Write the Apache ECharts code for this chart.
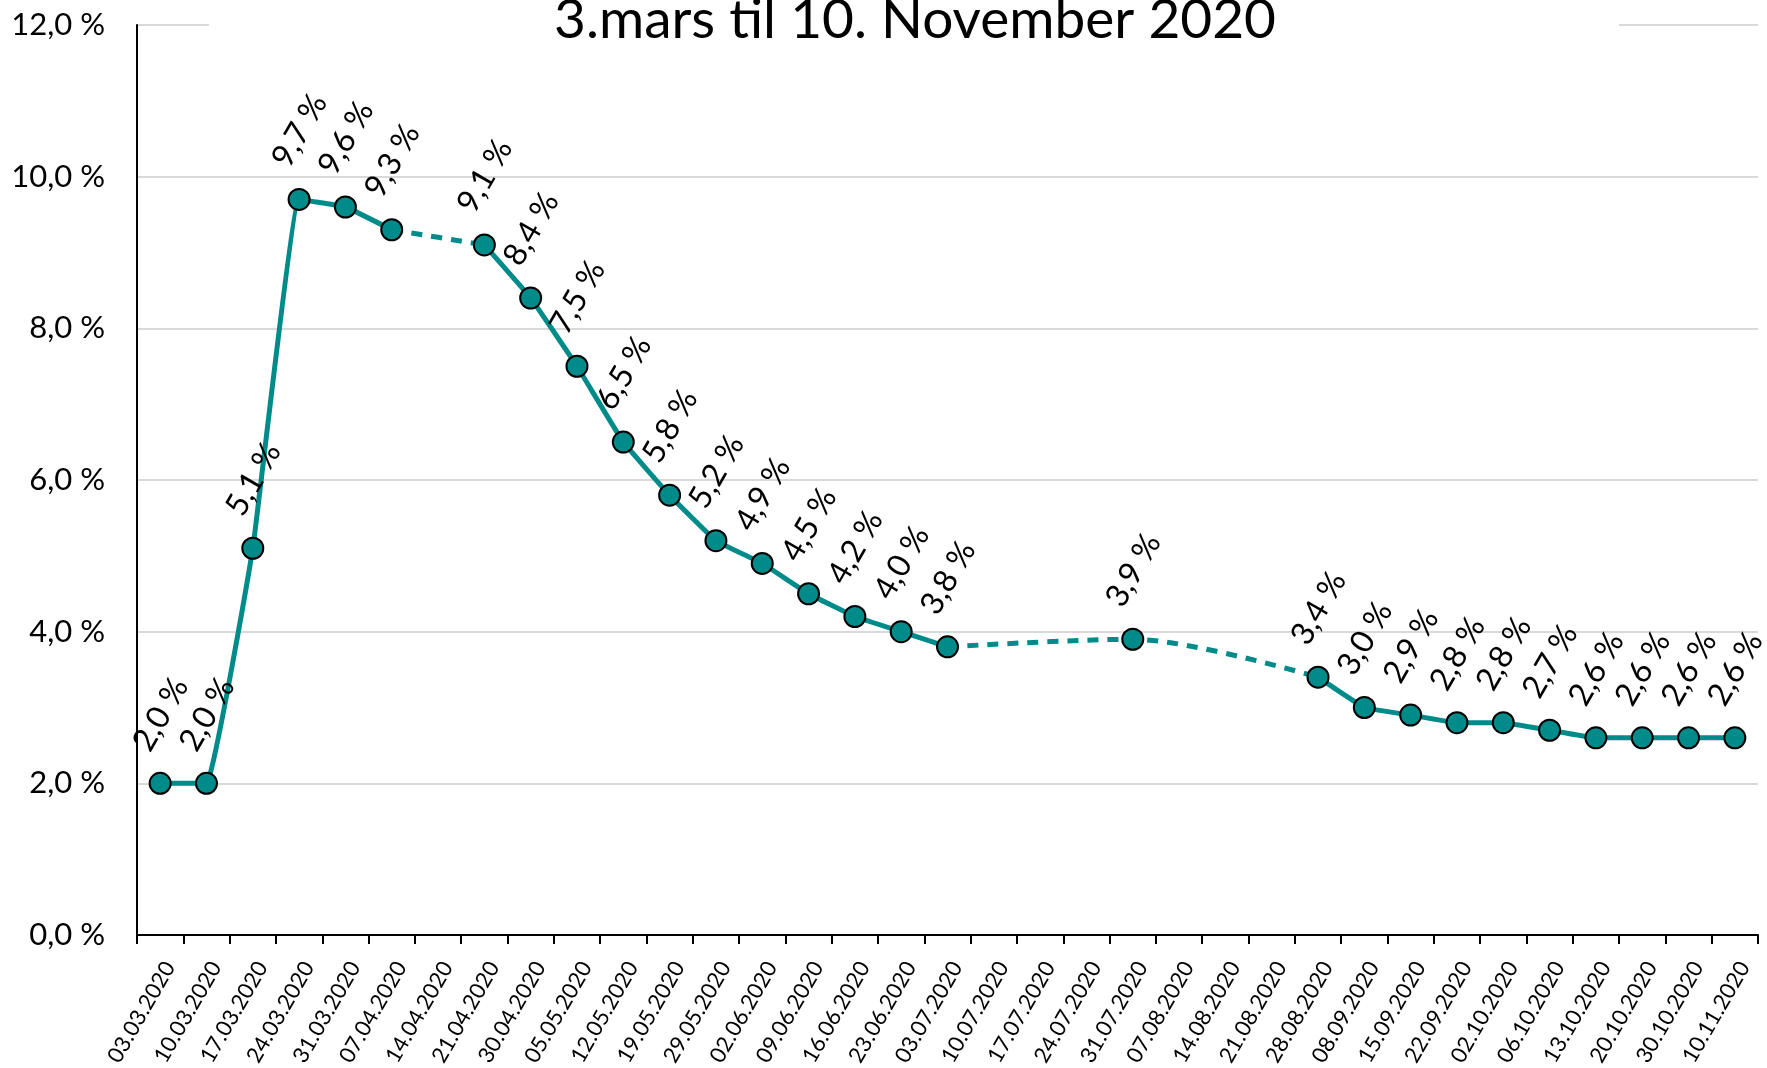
<!DOCTYPE html>
<html>
<head>
<meta charset="utf-8">
<script src="https://cdn.jsdelivr.net/npm/echarts@6/dist/echarts.min.js"></script>
<style>
  html, body { margin: 0; padding: 0; background: #fff; }
  #chart { width: 1767px; height: 1068px; }
</style>
</head>
<body>
<div id="chart"></div>
<script>
// datoer (x-aksen)
const dates = [
  '03.03.2020', '10.03.2020', '17.03.2020', '24.03.2020', '31.03.2020', '07.04.2020',
  '14.04.2020', '21.04.2020', '30.04.2020', '05.05.2020', '12.05.2020', '19.05.2020',
  '29.05.2020', '02.06.2020', '09.06.2020', '16.06.2020', '23.06.2020', '03.07.2020',
  '10.07.2020', '17.07.2020', '24.07.2020', '31.07.2020', '07.08.2020', '14.08.2020',
  '21.08.2020', '28.08.2020', '08.09.2020', '15.09.2020', '22.09.2020', '02.10.2020',
  '06.10.2020', '13.10.2020', '20.10.2020', '30.10.2020', '10.11.2020'
];

// prosent, null = ingen måling
const rate = [
  2.0, 2.0, 5.1, 9.7, 9.6, 9.3,
  null, 9.1, 8.4, 7.5, 6.5, 5.8,
  5.2, 4.9, 4.5, 4.2, 4.0, 3.8,
  null, null, null, 3.9, null, null,
  null, 3.4, 3.0, 2.9, 2.8, 2.8,
  2.7, 2.6, 2.6, 2.6, 2.6
];

const yTicks = [0, 2, 4, 6, 8, 10, 12];

const teal = '#008B8B';
const fmt = v => v.toFixed(1).replace('.', ',') + ' %';

// stiplede linjer over hullene i serien
function bridges(values) {
  const out = [];
  let i = 0;
  while (i < values.length - 1) {
    if (values[i] != null && values[i + 1] == null) {
      const arr = values.map(() => null);
      arr[i] = values[i];
      let j = i + 1;
      while (j < values.length) {
        if (values[j] != null) {
          arr[j] = values[j];
          if (j + 1 < values.length && values[j + 1] == null) { j++; continue; }
          break;
        }
        j++;
      }
      out.push(arr);
      i = j;
    } else {
      i++;
    }
  }
  return out;
}

const dashedSeries = bridges(rate).map(arr => ({
  type: 'line',
  data: arr,
  connectNulls: true,
  smooth: 0.3,
  symbol: 'none',
  silent: true,
  z: 1,
  lineStyle: { color: teal, width: 5, type: [11, 9] }
}));

const chart = echarts.init(document.getElementById('chart'));

chart.setOption({
  animation: false,
  backgroundColor: '#fff',
  title: {
    text: '3.mars til 10. November 2020',
    left: 915,
    textAlign: 'center',
    top: -7,
    padding: 0,
    textStyle: { fontFamily: 'Lato', fontSize: 55, fontWeight: 'normal', color: '#000' }
  },
  graphic: [{
    type: 'rect',
    left: 209,
    top: 15,
    shape: { width: 1410, height: 20 },
    style: { fill: '#fff' },
    z: 5
  }],
  grid: { left: 137, right: 9, top: 25, bottom: 133, outerBoundsMode: 'none', containLabel: false },
  xAxis: {
    type: 'category',
    data: dates,
    boundaryGap: true,
    axisLine: { lineStyle: { color: '#000', width: 2 } },
    axisTick: { show: true, length: 9, lineStyle: { color: '#000', width: 2 } },
    axisLabel: {
      interval: 0,
      rotate: 60,
      margin: 23,
      verticalAlign: 'top',
      fontFamily: 'Lato',
      fontSize: 22,
      color: '#000'
    },
    splitLine: { show: false }
  },
  yAxis: {
    type: 'value',
    min: yTicks[0],
    max: yTicks[yTicks.length - 1],
    interval: 2,
    axisLine: { show: true, lineStyle: { color: '#000', width: 2 } },
    axisTick: { show: false },
    axisLabel: {
      margin: 32,
      fontFamily: 'Lato',
      fontSize: 31,
      color: '#000',
      formatter: fmt
    },
    splitLine: { lineStyle: { color: '#d9d9d9', width: 2 } }
  },
  series: [
    ...dashedSeries,
    {
      type: 'line',
      data: rate,
      connectNulls: false,
      smooth: 0.08,
      z: 3,
      symbol: 'circle',
      symbolSize: 21,
      lineStyle: { color: teal, width: 5 },
      itemStyle: { color: teal, borderColor: '#000', borderWidth: 2 },
      label: {
        show: true,
        position: 'inside',
        rotate: 60,
        align: 'center',
        verticalAlign: 'middle',
        offset: [60, -34],
        fontFamily: 'Lato',
        fontSize: 32,
        color: '#000',
        formatter: p => fmt(p.value)
      }
    }
  ]
});
</script>
</body>
</html>
